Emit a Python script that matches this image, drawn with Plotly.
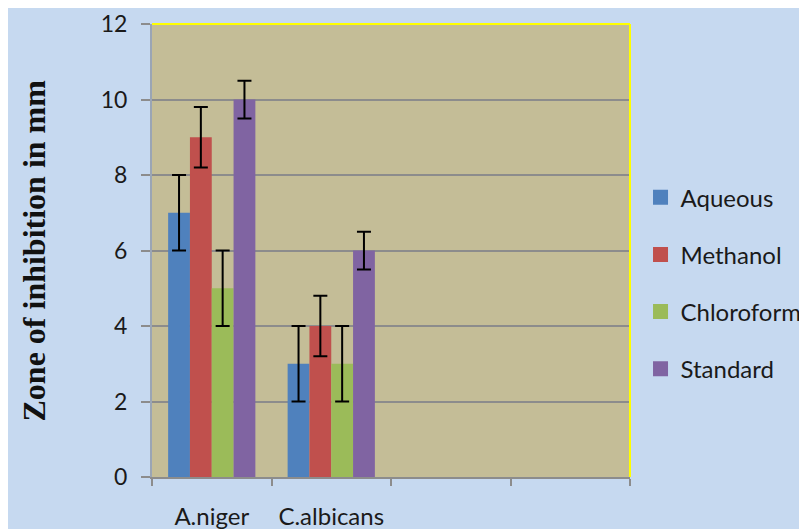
import plotly.graph_objects as go

categories = ["A.niger", "C.albicans", " ", "  "]
series_names = ["Aqueous", "Methanol", "Chloroform", "Standard"]
aqueous = [7, 3]
methanol = [9, 4]
chloroform = [5, 3]
standard = [10, 6]
aqueous_err = [1, 1]
methanol_err = [0.8, 0.8]
chloroform_err = [1, 1]
standard_err = [0.5, 0.5]
y_ticks = [0, 2, 4, 6, 8, 10, 12]

colors = ["#4F81BD", "#C0504D", "#9BBB59", "#8064A2"]
values = [aqueous, methanol, chloroform, standard]
errors = [aqueous_err, methanol_err, chloroform_err, standard_err]

FONT = "Lato, 'Open Sans', sans-serif"
BG = "#C6D9F0"
PLOT_BG = "#C4BD97"
GRID = "#8C8C8C"
TXT = "#1a1a1a"

fig = go.Figure()
for name, vals, errs, col in zip(series_names, values, errors, colors):
    fig.add_trace(go.Bar(
        name=name,
        x=categories[:len(vals)],
        y=vals,
        marker=dict(color=col, line=dict(width=0)),
        error_y=dict(type="data", array=errs, visible=True,
                     color="black", thickness=2, width=7),
        showlegend=False,
    ))
# legend entries (square swatches)
for name, col in zip(series_names, colors):
    fig.add_trace(go.Scatter(
        name=name, x=[None], y=[None], mode="markers",
        marker=dict(symbol="square", size=15, color=col),
        legendgroup=name, showlegend=True,
    ))

fig.update_layout(
    width=807, height=529,
    margin=dict(l=144, r=185, t=16, b=60, autoexpand=False),
    paper_bgcolor=BG,
    plot_bgcolor=PLOT_BG,
    barmode="group",
    bargap=0.27,
    bargroupgap=0,
    font=dict(family=FONT, color=TXT),
    showlegend=True,
    legend=dict(
        x=1.022, xanchor="left", y=0.428, yanchor="middle",
        font=dict(size=24, family=FONT, color=TXT),
        bgcolor="rgba(0,0,0,0)",
        tracegroupgap=23,
        itemwidth=30,
        traceorder="grouped",
    ),
    xaxis=dict(
        type="category",
        categoryorder="array",
        categoryarray=categories,
        range=[-0.5, 3.5],
        automargin=False,
        tickson="boundaries",
        ticks="outside",
        ticklen=7,
        tickwidth=2,
        tickcolor=GRID,
        showline=True,
        linecolor=GRID,
        linewidth=2,
        showgrid=False,
        tickfont=dict(size=24, family=FONT, color=TXT),
        ticklabelstandoff=17,
    ),
    yaxis=dict(
        range=[0, 12],
        tickvals=y_ticks,
        automargin=False,
        ticks="outside",
        ticklen=9,
        tickwidth=2,
        tickcolor=GRID,
        showline=True,
        linecolor="#9AA5B5",
        linewidth=2,
        showgrid=True,
        gridcolor=GRID,
        gridwidth=1.5,
        zeroline=False,
        tickfont=dict(size=23, family=FONT, color=TXT),
        ticklabelstandoff=9,
    ),
    shapes=[
        dict(type="line", xref="paper", yref="paper", x0=0, x1=1, y0=1, y1=1,
             line=dict(color="#FFFF00", width=2), layer="above"),
        dict(type="line", xref="paper", yref="paper", x0=1, x1=1, y0=0, y1=1,
             line=dict(color="#FFFF00", width=2), layer="above"),
    ],
    annotations=[
        dict(text="<b>Zone of inhibition in mm</b>", xref="paper", yref="paper",
             x=0, y=0.5, xanchor="center", yanchor="middle", xshift=-119,
             textangle=-90, showarrow=False,
             font=dict(family="'Liberation Serif', 'Times New Roman', serif",
                       size=32, color="#111111")),
    ],
)

fig.write_html("out.html")
